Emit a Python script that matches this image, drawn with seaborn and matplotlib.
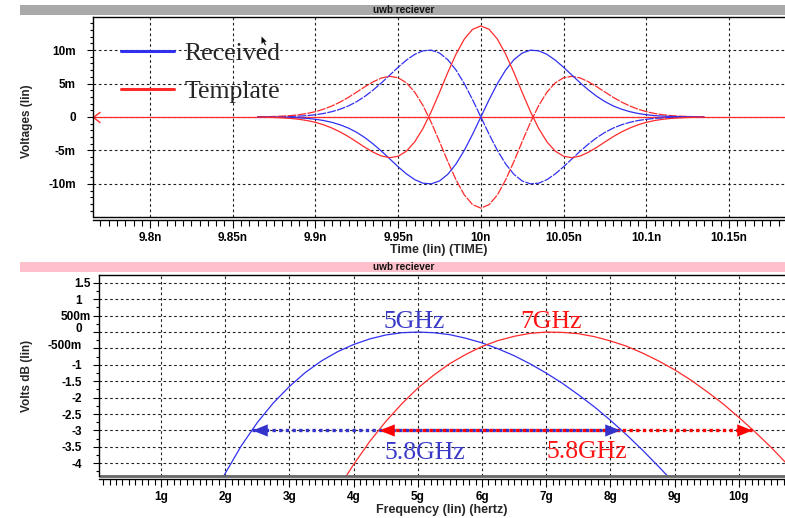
import matplotlib
matplotlib.use("Agg")
import matplotlib.pyplot as plt
import matplotlib.transforms as mtrans
from matplotlib.path import Path
from matplotlib.patches import Rectangle
from matplotlib.ticker import MultipleLocator
import pandas as pd
import seaborn as sns

# ---------------- data ----------------
# top panel: time-domain pulses (time in ns, voltage in mV)
time_ns = [9.865, 9.870, 9.875, 9.880, 9.885, 9.890, 9.895, 9.900, 9.905, 9.910,
           9.915, 9.920, 9.925, 9.930, 9.935, 9.940, 9.945, 9.950, 9.955, 9.960,
           9.965, 9.970, 9.975, 9.980, 9.985, 9.990, 9.995, 10.000, 10.005, 10.010,
           10.015, 10.020, 10.025, 10.030, 10.035, 10.040, 10.045, 10.050, 10.055, 10.060,
           10.065, 10.070, 10.075, 10.080, 10.085, 10.090, 10.095, 10.100, 10.105, 10.110,
           10.115, 10.120, 10.125, 10.130, 10.135]
received_mV = [0.00, -0.01, -0.02, -0.04, -0.08, -0.13, -0.21, -0.34, -0.53, -0.80,
               -1.17, -1.66, -2.30, -3.10, -4.05, -5.12, -6.27, -7.43, -8.49, -9.35,
               -9.88, -9.98, -9.55, -8.56, -7.01, -4.98, -2.58, 0.00, 2.58, 4.98,
               7.01, 8.56, 9.55, 9.98, 9.88, 9.35, 8.49, 7.43, 6.27, 5.12,
               4.05, 3.10, 2.30, 1.66, 1.17, 0.80, 0.53, 0.34, 0.21, 0.13,
               0.08, 0.04, 0.02, 0.01, 0.00]
received_inv_mV = [0.00, 0.01, 0.02, 0.04, 0.08, 0.13, 0.21, 0.34, 0.53, 0.80,
                   1.17, 1.66, 2.30, 3.10, 4.05, 5.12, 6.27, 7.43, 8.49, 9.35,
                   9.88, 9.98, 9.55, 8.56, 7.01, 4.98, 2.58, 0.00, -2.58, -4.98,
                   -7.01, -8.56, -9.55, -9.98, -9.88, -9.35, -8.49, -7.43, -6.27, -5.12,
                   -4.05, -3.10, -2.30, -1.66, -1.17, -0.80, -0.53, -0.34, -0.21, -0.13,
                   -0.08, -0.04, -0.02, -0.01, 0.00]
template_mV = [0.00, -0.04, -0.08, -0.13, -0.21, -0.34, -0.53, -0.80, -1.17, -1.65,
               -2.24, -2.94, -3.73, -4.54, -5.27, -5.83, -6.07, -5.86, -5.10, -3.72,
               -1.72, 0.80, 3.67, 6.64, 9.39, 11.63, 13.09, 13.60, 13.09, 11.63,
               9.39, 6.64, 3.67, 0.80, -1.72, -3.72, -5.10, -5.86, -6.07, -5.83,
               -5.27, -4.54, -3.73, -2.94, -2.24, -1.65, -1.17, -0.80, -0.53, -0.34,
               -0.21, -0.13, -0.08, -0.04, 0.00]
template_inv_mV = [0.00, 0.04, 0.08, 0.13, 0.21, 0.34, 0.53, 0.80, 1.17, 1.65,
                   2.24, 2.94, 3.73, 4.54, 5.27, 5.83, 6.07, 5.86, 5.10, 3.72,
                   1.72, -0.80, -3.67, -6.64, -9.39, -11.63, -13.09, -13.60, -13.09, -11.63,
                   -9.39, -6.64, -3.67, -0.80, 1.72, 3.72, 5.10, 5.86, 6.07, 5.83,
                   5.27, 4.54, 3.73, 2.94, 2.24, 1.65, 1.17, 0.80, 0.53, 0.34,
                   0.21, 0.13, 0.08, 0.04, 0.00]
# template is zero outside the pulse (flat red trace across the window)
baseline_ns = [9.76, 10.19]
baseline_mV = [0.0, 0.0]

time_ticks = [9.8, 9.85, 9.9, 9.95, 10.0, 10.05, 10.1, 10.15]
time_labels = ["9.8n", "9.85n", "9.9n", "9.95n", "10n", "10.05n", "10.1n", "10.15n"]
volt_ticks = [10, 5, 0, -5, -10]
volt_labels = ["10m", "5m", "0", "-5m", "-10m"]

# bottom panel: spectra (frequency in GHz, magnitude in dB)
freq_rx_GHz = [1.95, 2.0, 2.25, 2.5, 2.75, 3.0, 3.25, 3.5, 3.75, 4.0, 4.25, 4.5, 4.75,
               5.0, 5.25, 5.5, 5.75, 6.0, 6.25, 6.5, 6.75, 7.0, 7.25, 7.5, 7.75, 8.0,
               8.25, 8.5, 8.75, 8.9]
received_dB = [-4.50, -4.31, -3.47, -2.76, -2.16, -1.66, -1.23, -0.88, -0.60, -0.38,
               -0.21, -0.09, -0.02, 0.00, -0.02, -0.08, -0.19, -0.33, -0.51, -0.72,
               -0.97, -1.25, -1.56, -1.91, -2.28, -2.69, -3.13, -3.60, -4.10, -4.41]
freq_tp_GHz = [3.85, 4.0, 4.25, 4.5, 4.75, 5.0, 5.25, 5.5, 5.75, 6.0, 6.25, 6.5, 6.75,
               7.0, 7.25, 7.5, 7.75, 8.0, 8.25, 8.5, 8.75, 9.0, 9.25, 9.5, 9.75, 10.0,
               10.25, 10.5, 10.75]
template_dB = [-4.50, -4.04, -3.34, -2.73, -2.19, -1.71, -1.31, -0.96, -0.68, -0.44,
               -0.26, -0.13, -0.04, 0.00, -0.01, -0.05, -0.14, -0.27, -0.43, -0.64,
               -0.88, -1.15, -1.46, -1.81, -2.18, -2.60, -3.04, -3.51, -4.02]
bw_rx_GHz = [2.42, 8.15]
bw_tp_GHz = [4.39, 10.2]
bw_level_dB = [-3.0, -3.0]
freq_ticks = [1, 2, 3, 4, 5, 6, 7, 8, 9, 10]
freq_labels = ["1g", "2g", "3g", "4g", "5g", "6g", "7g", "8g", "9g", "10g"]
db_ticks = [1.5, 1.0, 0.5, 0.0, -0.5, -1.0, -1.5, -2.0, -2.5, -3.0, -3.5, -4.0]
db_labels = ["1.5", "1", "500m", "0", "-500m", "-1", "-1.5", "-2", "-2.5", "-3", "-3.5", "-4"]

# ---------------- style ----------------
sns.set_theme(style="white")
plt.rcParams["font.family"] = ["Liberation Sans", "DejaVu Sans"]
plt.rcParams["font.weight"] = "bold"
BLUE = "#3030f0"
RED = "#ff2a2a"
BLUE_T = "#3a3ac8"
RED_T = "#ff1414"
SERIF = {"family": ["Liberation Serif", "DejaVu Serif"], "size": 18.5, "weight": "normal"}
W, H = 785, 518

fig = plt.figure(figsize=(7.85, 5.18), dpi=100)
fig.patch.set_facecolor("white")

# title bars
for y0, col in [(5, "#a9a9a9"), (262, "#ffc0cb")]:
    fig.add_artist(Rectangle((20 / W, 1 - (y0 + 10) / H), 765 / W, 10 / H,
                             transform=fig.transFigure, color=col, lw=0))
    fig.text(404 / W, 1 - (y0 + 5) / H, "uwb reciever", ha="center", va="center",
             fontsize=7.2, fontweight="bold", color="#111111")

ax1 = fig.add_axes([93 / W, 1 - 217 / H, 692 / W, 200 / H])
ax2 = fig.add_axes([99 / W, 1 - 476 / H, 686 / W, 201 / H])

grid_kw = dict(color="#222222", lw=0.8, linestyle=(0, (2.4, 2.4)))

# ---------- top panel ----------
sns.lineplot(x=baseline_ns, y=baseline_mV, ax=ax1, color=RED, lw=0.9, estimator=None, sort=False)
sns.lineplot(x=time_ns, y=received_inv_mV, ax=ax1, color=BLUE, lw=0.9,
             linestyle=(0, (7, 1)), estimator=None, sort=False)
sns.lineplot(x=time_ns, y=template_inv_mV, ax=ax1, color=RED, lw=0.9,
             linestyle=(0, (7, 1)), estimator=None, sort=False)
sns.lineplot(x=time_ns, y=received_mV, ax=ax1, color=BLUE, lw=0.9, label="Received",
             estimator=None, sort=False)
sns.lineplot(x=time_ns, y=template_mV, ax=ax1, color=RED, lw=0.9, label="Template",
             estimator=None, sort=False)
ax1.plot([0.0], [0.0], transform=ax1.get_yaxis_transform(),
         marker=Path([(1.3, 1.0), (0, 0), (1.3, -1.0)]),
         ms=10, mec=RED, mfc="none", mew=1.0, clip_on=False, ls="none")
# mouse pointer captured in the screenshot
ax1.plot([0.243], [0.905], transform=ax1.transAxes,
         marker=Path([(0, 0), (0, -1.6), (0.4, -1.2), (0.75, -1.9), (0.95, -1.8), (0.6, -1.1), (1.1, -1.1), (0, 0)]),
         ms=13, color="black", mew=0, ls="none")

ax1.set_xlim(9.7655, 10.1839)
ax1.set_ylim(-14.93, 14.93)
ax1.set_xticks(time_ticks)
ax1.set_xticklabels(time_labels)
ax1.set_yticks(volt_ticks)
ax1.set_yticklabels(volt_labels)
ax1.xaxis.set_minor_locator(MultipleLocator(0.005))
ax1.yaxis.set_minor_locator(MultipleLocator(1))
ax1.set_xlabel("Time (lin) (TIME)", fontsize=9, fontweight="bold")
ax1.set_ylabel("Voltages (lin)", fontsize=8.5, fontweight="bold")
ax1.xaxis.set_label_coords(0.5, -0.135)
ax1.yaxis.set_label_coords(-0.087, 0.48)
leg = ax1.legend(loc="upper left", bbox_to_anchor=(0.0405, 0.875), frameon=False, prop=SERIF,
                 handlelength=2.07, handletextpad=0.4, labelspacing=0.58, borderpad=0,
                 borderaxespad=0)
for h in leg.legend_handles:
    h.set_linewidth(2.2)

# ---------- bottom panel ----------
sns.lineplot(x=freq_rx_GHz, y=received_dB, ax=ax2, color=BLUE, lw=0.9, estimator=None, sort=False)
sns.lineplot(x=freq_tp_GHz, y=template_dB, ax=ax2, color=RED, lw=0.9, estimator=None, sort=False)
ax2.plot(bw_rx_GHz, bw_level_dB, color="#3333cc", lw=2.4, linestyle=(0, (1, 1)),
         solid_capstyle="butt", dash_capstyle="butt")
ax2.plot(bw_tp_GHz, bw_level_dB, color="#ff0000", lw=2.4, linestyle=(1, (1, 1)),
         solid_capstyle="butt", dash_capstyle="butt")
left_head = Path([(0, 0), (2, 0.8), (2, -0.8), (0, 0)])
right_head = Path([(0, 0), (-2, 0.8), (-2, -0.8), (0, 0)])
for xs, col in [(bw_rx_GHz, "#3333cc"), (bw_tp_GHz, "#ff0000")]:
    ax2.plot(xs[:1], bw_level_dB[:1], marker=left_head, ms=22, color=col, mew=0, ls="none")
    ax2.plot(xs[1:], bw_level_dB[1:], marker=right_head, ms=22, color=col, mew=0, ls="none")

ax2.text(4.94, 0.12, "5GHz", ha="center", va="baseline", color=BLUE_T, fontdict=SERIF)
ax2.text(7.07, 0.12, "7GHz", ha="center", va="baseline", color=RED_T, fontdict=SERIF)
ax2.text(5.11, -3.87, "5.8GHz", ha="center", va="baseline", color=BLUE_T, fontdict=SERIF)
ax2.text(7.64, -3.84, "5.8GHz", ha="center", va="baseline", color=RED_T, fontdict=SERIF)

ax2.set_xlim(0.034, 10.72)
ax2.set_ylim(-4.39, 1.74)
ax2.set_xticks(freq_ticks)
ax2.set_xticklabels(freq_labels)
ax2.set_yticks(db_ticks)
ax2.set_yticklabels(db_labels)
ax2.xaxis.set_minor_locator(MultipleLocator(0.1))
ax2.yaxis.set_minor_locator(MultipleLocator(0.25))
ax2.set_xlabel("Frequency (lin) (hertz)", fontsize=9, fontweight="bold")
ax2.set_ylabel("Volts dB (lin)", fontsize=8.5, fontweight="bold")
ax2.xaxis.set_label_coords(0.5, -0.139)
ax2.yaxis.set_label_coords(-0.096, 0.5)

# ---------- common axes styling ----------
for ax, frame_col, frame_lw in [(ax1, "black", 1.0), (ax2, "#666666", 2.0)]:
    ax.set_facecolor("white")
    ax.grid(True, which="major", **grid_kw)
    ax.set_axisbelow(True)
    ax.spines["right"].set_visible(False)
    for s in ("top", "left", "bottom"):
        ax.spines[s].set_color("black")
        ax.spines[s].set_linewidth(1.0)
    ax.spines["bottom"].set_position(("outward", 2.5))
    ax.plot([0, 1], [0, 0], transform=ax.transAxes, color=frame_col, lw=frame_lw,
            clip_on=False, solid_capstyle="butt")
    ax.tick_params(axis="both", which="both", direction="out", colors="black", width=0.8,
                   labelsize=8.5, bottom=True, left=True, top=False, right=False)
    ax.tick_params(axis="x", which="major", length=6, pad=2)
    ax.tick_params(axis="x", which="minor", length=4.5)
    ax.tick_params(axis="y", which="major", length=4, pad=8.5)
    ax.tick_params(axis="y", which="minor", length=2.5)
    for lbl in ax.get_xticklabels() + ax.get_yticklabels():
        lbl.set_fontweight("bold")

# small individual label offsets in the bottom panel (as in the reference)
shifts = {"1.5": (9, 0), "500m": (9, 0), "0": (0, 5), "-500m": (0, 4)}
for lbl in ax2.get_yticklabels():
    t = lbl.get_text()
    if t in shifts:
        dx, dy = shifts[t]
        lbl.set_transform(lbl.get_transform() + mtrans.ScaledTranslation(dx / 100, dy / 100, fig.dpi_scale_trans))

fig.savefig("out.png", dpi=100)
